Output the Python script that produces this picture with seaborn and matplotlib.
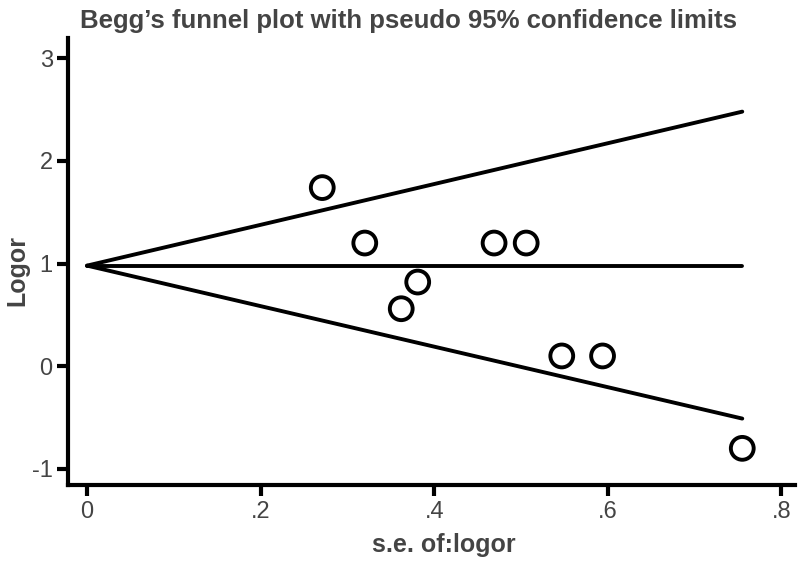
import numpy as np
import pandas as pd
import matplotlib
matplotlib.use("Agg")
import matplotlib.pyplot as plt
import seaborn as sns

# study estimates
se = [0.271, 0.320, 0.381, 0.362, 0.469, 0.506, 0.547, 0.594, 0.755]
logor = [1.74, 1.20, 0.82, 0.56, 1.20, 1.20, 0.10, 0.10, -0.80]

# pseudo 95% confidence limit lines (endpoints)
limit_se = [0.0, 0.755]
upper = [0.98, 2.48]
pooled = [0.98, 0.98]
lower = [0.98, -0.51]

xticks = [0, 0.2, 0.4, 0.6, 0.8]
xticklabels = ["0", ".2", ".4", ".6", ".8"]
yticks = [-1, 0, 1, 2, 3]

sns.set_style("ticks")
plt.rcParams["font.family"] = ["Liberation Sans", "DejaVu Sans"]
plt.rcParams["axes.unicode_minus"] = False

df = pd.DataFrame({"se": se, "logor": logor})

fig = plt.figure(figsize=(8, 5.63), dpi=100)
ax = fig.add_axes([0.085, 0.138, 0.909, 0.795])

for yy in (upper, pooled, lower):
    sns.lineplot(x=limit_se, y=yy, ax=ax, color="black", lw=2.8)

sns.scatterplot(data=df, x="se", y="logor", ax=ax, s=270, marker="o",
                facecolor="none", edgecolor="black", linewidth=2.8, zorder=3)

ax.set_xlim(-0.022, 0.816)
ax.set_ylim(-1.16, 3.2)
ax.set_xticks(xticks)
ax.set_xticklabels(xticklabels)
ax.set_yticks(yticks)

for s in ("top", "right"):
    ax.spines[s].set_visible(False)
for s in ("left", "bottom"):
    ax.spines[s].set_linewidth(3)
    ax.spines[s].set_color("black")
ax.tick_params(axis="both", length=8, width=3, color="black",
               labelsize=17, labelcolor="#444444", pad=3)

ax.set_xlabel("")
ax.set_ylabel("")
fig.text(0.555, 0.032, "s.e. of:logor", ha="center", va="center",
         fontsize=18, fontweight="bold", color="#444444")
fig.text(0.022, 0.52, "Logor", ha="center", va="center", rotation=90,
         fontsize=18, fontweight="bold", color="#444444")
fig.text(0.51, 0.963, "Begg\u2019s funnel plot with pseudo 95% confidence limits",
         ha="center", va="center", fontsize=18.5, fontweight="bold", color="#444444")

fig.savefig("out.png", dpi=100)
